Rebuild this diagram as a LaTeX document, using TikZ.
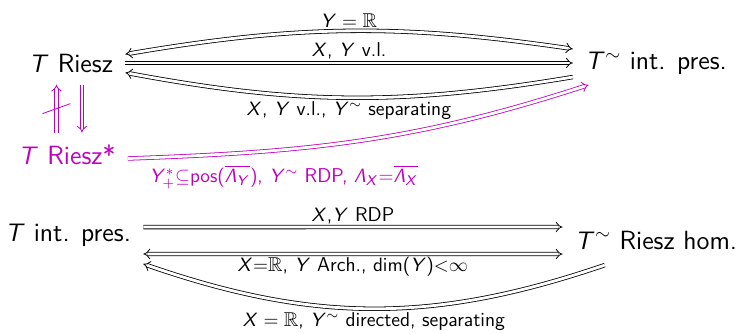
\documentclass[tikz,border=0pt]{standalone}
\usepackage{amsmath}
\usepackage{amssymb}
\usetikzlibrary{arrows.meta,positioning}
\renewcommand{\familydefault}{\sfdefault}
\DeclareSymbolFont{sfletters}{OT1}{cmss}{m}{sl}
\DeclareSymbolFont{operators}{OT1}{cmss}{m}{n}
\DeclareMathSymbol{T}{\mathalpha}{sfletters}{`T}
\DeclareMathSymbol{X}{\mathalpha}{sfletters}{`X}
\DeclareMathSymbol{Y}{\mathalpha}{sfletters}{`Y}
\DeclareMathSymbol{\Lam}{\mathalpha}{sfletters}{"03}
\definecolor{pink}{RGB}{192,0,192}

\begin{document}
\begin{tikzpicture}[x=0.02cm, y=0.02cm, >=Implies,
  font=\fontsize{15}{17}\selectfont,
  every node/.style={inner sep=4pt, outer sep=3pt},
  lab/.style={font=\fontsize{11.4}{13}\selectfont, inner sep=2pt, outer sep=0pt},
  imp/.style={double, double distance=1.6pt, line width=0.45pt}]
\useasboundingbox (0,0) rectangle (746,334);
% the nodes
\node (riesz) at (71,271) {$T$ Riesz};
\node (intp) at (656,271) {$T^\sim$ int. pres.};
\node[pink] (rstar) at (67,179) {$T$ Riesz*};
\node (intp2) at (68,99) {$T$ int. pres.};
\node (rhom) at (656,94) {$T^\sim$ Riesz hom.};
% top group
\draw[imp, <->] ([yshift=5pt]riesz.east) to[bend left=9]
  node[lab, above] {$Y=\mathbb{R}$} ([yshift=8pt]intp.west);
\draw[imp, ->] (riesz.east) -- node[lab, above] {$X$, $Y$ v.l.} (intp.west);
\draw[imp, ->] ([yshift=-8pt]intp.west) to[bend left=10]
  node[lab, below] {$X$, $Y$ v.l., $Y^\sim$ separating} ([yshift=-5.5pt]riesz.east);
% riesz*
\draw[imp, pink, ->] ([xshift=-6pt]rstar.north) -- coordinate[midway] (nt)
  ([xshift=-6pt]rstar.north |- riesz.south);
\draw[pink, line width=0.45pt] ([shift={(-14,-5)}]nt) -- ([shift={(14,5)}]nt);
\draw[imp, pink, ->] ([xshift=8.5pt]rstar.north |- riesz.south) -- ([xshift=8.5pt]rstar.north);
\draw[imp, pink, ->] ([yshift=-2pt]rstar.east) to[out=2, in=198]
  node[lab, below=7pt, pos=0.32, pink] {$Y_+^*{\subseteq}\mathrm{pos}(\overline{\Lam_Y})$, $Y^\sim$ RDP, $\Lam_X{=}\overline{\Lam_X}$}
  ([xshift=9pt,yshift=1pt]intp.south west);
% bottom group
\draw[imp, ->] ([yshift=4.5pt]intp2.east) -- node[lab, above] {$X$,$Y$ RDP} ([yshift=7.4pt]rhom.west);
\draw[imp, <->] ([yshift=-10.8pt]intp2.east) --
  node[lab, below] {$X{=}\mathbb{R}$, $Y$ Arch., $\dim(Y){<}\infty$} ([yshift=-8pt]rhom.west);
\draw[imp, ->] ([xshift=24pt,yshift=-2pt]rhom.south west) to[bend left=19]
  node[lab, below] {$X=\mathbb{R}$, $Y^\sim$ directed, separating} ([yshift=-3pt]intp2.south east);
\end{tikzpicture}
\end{document}
